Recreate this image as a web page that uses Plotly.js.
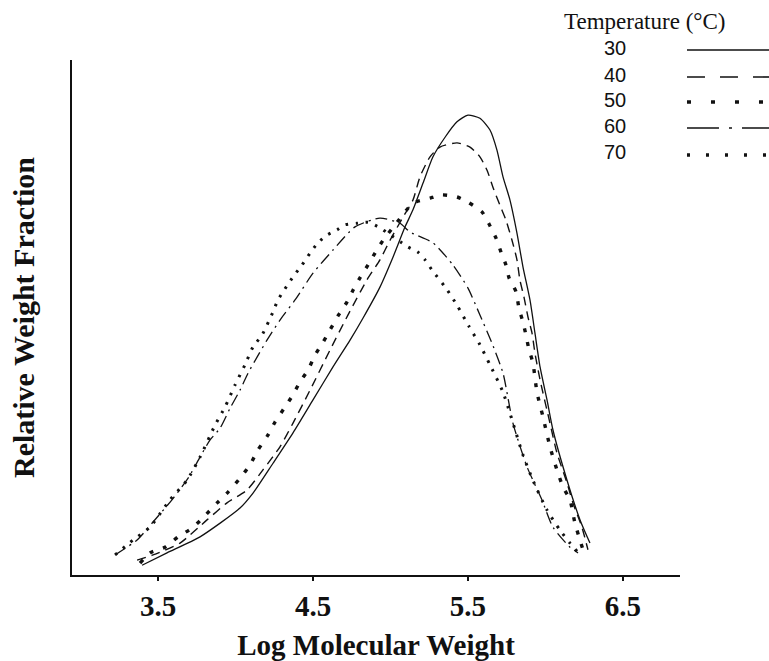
<!DOCTYPE html>
<html>
<head>
<meta charset="utf-8">
<script src="https://cdn.plot.ly/plotly-3.0.1.min.js"></script>
<style>html,body{margin:0;padding:0;background:#fff;}#chart{width:769px;height:661px;}</style>
</head>
<body>
<div id="chart"></div>
<script>
// ---- data ----
const temps = ["30", "40", "50", "60", "70"];
const tickVals = [3.5, 4.5, 5.5, 6.5];
const tickLabels = ["3.5", "4.5", "5.5", "6.5"];

const x30 = [3.397,3.558,3.771,4.029,4.113,4.242,4.371,4.500,4.629,4.739,4.823,4.932,5.016,5.094,5.145,5.210,5.274,5.352,5.429,5.500,5.577,5.642,5.687,5.726,5.771,5.816,5.855,5.900,5.932,5.965,6.010,6.048,6.139,6.223,6.287];
const y30 = [1.9,4.3,7.4,13.0,15.9,21.7,27.6,34.0,40.4,45.6,49.9,55.9,61.7,67.6,70.9,76.1,81.2,85.0,88.0,89.3,88.7,86.4,82.5,77.3,72.8,66.4,59.8,53.4,47.0,40.4,34.0,28.2,18.4,10.7,6.2];

const x40 = [3.365,3.468,3.642,3.816,3.945,4.074,4.177,4.287,4.371,4.481,4.610,4.726,4.848,4.932,4.997,5.081,5.145,5.190,5.255,5.319,5.429,5.513,5.577,5.623,5.661,5.706,5.745,5.784,5.816,5.835,5.861,5.887,5.913,5.932,5.965,6.029,6.074,6.139,6.177,6.235,6.274];
const y40 = [2.9,3.9,6.2,10.7,14.0,16.5,20.4,24.9,29.5,35.9,43.7,50.5,57.3,61.2,65.0,69.5,72.8,77.3,81.2,83.1,83.9,83.1,81.2,78.6,75.3,71.8,68.9,65.0,61.2,57.3,54.0,50.1,47.0,43.1,37.9,29.5,23.7,17.9,14.0,9.3,4.9];

const x50 = [3.384,3.448,3.545,3.629,3.719,3.790,3.881,3.952,4.029,4.094,4.145,4.210,4.255,4.319,4.371,4.416,4.468,4.513,4.565,4.610,4.661,4.719,4.758,4.803,4.855,4.900,4.952,5.030,5.145,5.255,5.332,5.429,5.500,5.590,5.635,5.681,5.713,5.745,5.765,5.810,5.829,5.855,5.874,5.894,5.919,5.945,5.984,6.029,6.074,6.113,6.158,6.190,6.242];
const y50 = [2.3,4.3,5.4,7.4,9.1,11.1,14.0,16.1,18.8,21.4,24.3,27.2,29.7,32.6,35.0,37.5,39.8,42.7,45.2,47.6,50.3,53.0,55.3,57.7,60.2,62.5,65.0,68.0,72.2,73.2,73.8,73.4,72.4,70.5,68.2,65.4,62.7,60.2,57.7,55.0,51.8,49.1,46.6,43.7,41.2,35.5,30.7,24.9,20.4,17.1,14.6,10.1,4.9];

const x60 = [3.223,3.365,3.468,3.590,3.694,3.771,3.835,3.900,3.965,4.029,4.081,4.139,4.203,4.287,4.384,4.500,4.629,4.771,4.932,5.061,5.126,5.274,5.403,5.500,5.577,5.655,5.726,5.790,5.881,5.977,6.048,6.158,6.210];
const y60 = [3.9,6.8,10.3,14.6,18.8,22.9,26.2,28.5,32.4,35.9,39.2,42.3,45.6,49.5,53.4,58.6,63.1,67.6,69.3,68.3,66.6,64.5,60.2,55.7,50.5,45.0,39.2,29.5,21.0,14.6,9.3,5.4,4.3];

const x70 = [3.223,3.339,3.448,3.577,3.687,3.771,3.868,3.932,3.997,4.061,4.113,4.171,4.242,4.274,4.371,4.429,4.481,4.532,4.590,4.655,4.706,4.784,4.855,4.932,5.113,5.177,5.223,5.268,5.358,5.429,5.506,5.577,5.642,5.726,5.855,5.919,6.010,6.094,6.158,6.235];
const y70 = [3.9,6.8,9.3,14.6,18.4,22.9,29.1,32.6,36.9,40.8,44.3,46.6,51.1,53.4,57.9,60.2,62.5,64.5,66.0,67.0,68.0,68.3,68.5,67.4,63.7,62.7,61.2,59.2,55.7,52.4,48.3,44.7,40.8,35.5,23.3,18.4,12.6,8.7,6.2,3.5];

// ---- styles ----
const ink = "#111";
const curveStyles = [
  {width: 1.3, dash: "solid"},
  {width: 1.4, dash: "9px,6px"},
  {width: 3.4, dash: "4px,10px"},
  {width: 1.3, dash: "12px,5px,2px,5px"},
  {width: 3.0, dash: "2.5px,7.5px"}
];
const legendDash = ["solid", "18px,15px", "4px,20px", "32px,10px,3px,10px", "3px,16px"];
const legendWidth = [1.4, 1.6, 3.6, 1.5, 3.5];

const xs = [x30, x40, x50, x60, x70];
const ys = [y30, y40, y50, y60, y70];

const traces = temps.map((t, i) => ({
  x: xs[i], y: ys[i], type: "scatter", mode: "lines", name: t,
  line: {color: ink, width: curveStyles[i].width, dash: curveStyles[i].dash, shape: "spline", smoothing: 0.6},
  hoverinfo: "skip"
}));

const serif = "Liberation Serif, Times New Roman, serif";
const sans = "Liberation Sans, Arial, sans-serif";

// legend rows (paper coords)
const rowLabelY = [1.0233, 0.9709, 0.9223, 0.8718, 0.8214];
const rowLineY = [1.0194, 0.9670, 0.9184, 0.8680, 0.8155];

const annotations = [{
  text: "Temperature (°C)", xref: "paper", yref: "paper", x: 0.9408, y: 1.0738,
  xanchor: "center", yanchor: "middle", showarrow: false,
  font: {family: serif, size: 23, color: ink}
}].concat(temps.map((t, i) => ({
  text: t, xref: "paper", yref: "paper", x: 0.893, y: rowLabelY[i],
  xanchor: "center", yanchor: "middle", showarrow: false,
  font: {family: sans, size: 20, color: ink}
})));

const shapes = temps.map((t, i) => ({
  type: "line", xref: "paper", yref: "paper",
  x0: 1.0115, x1: 1.16, y0: rowLineY[i], y1: rowLineY[i],
  line: {color: ink, width: legendWidth[i], dash: legendDash[i]}
}));

const layout = {
  width: 769, height: 661,
  margin: {l: 72, r: 89, t: 60, b: 86},
  paper_bgcolor: "#fff", plot_bgcolor: "#fff",
  showlegend: false,
  xaxis: {
    range: [2.945, 6.868], tickvals: tickVals, ticktext: tickLabels,
    showline: true, linecolor: ink, linewidth: 2, mirror: false,
    ticks: "outside", ticklen: 4, tickwidth: 1.5, tickcolor: ink,
    showgrid: false, zeroline: false,
    tickfont: {family: serif, size: 29, color: ink, weight: 700},
    title: {text: "Log Molecular Weight", font: {family: serif, size: 29, color: ink, weight: 700}, standoff: 16},
    automargin: false
  },
  yaxis: {
    range: [0, 100], showline: true, linecolor: ink, linewidth: 1.6,
    showticklabels: false, ticks: "", showgrid: false, zeroline: false,
    title: {text: "Relative Weight Fraction", font: {family: serif, size: 30, color: ink, weight: 700}, standoff: 27},
    automargin: false
  },
  annotations: annotations,
  shapes: shapes
};

Plotly.newPlot("chart", traces, layout, {displayModeBar: false, staticPlot: true});
</script>
</body>
</html>
